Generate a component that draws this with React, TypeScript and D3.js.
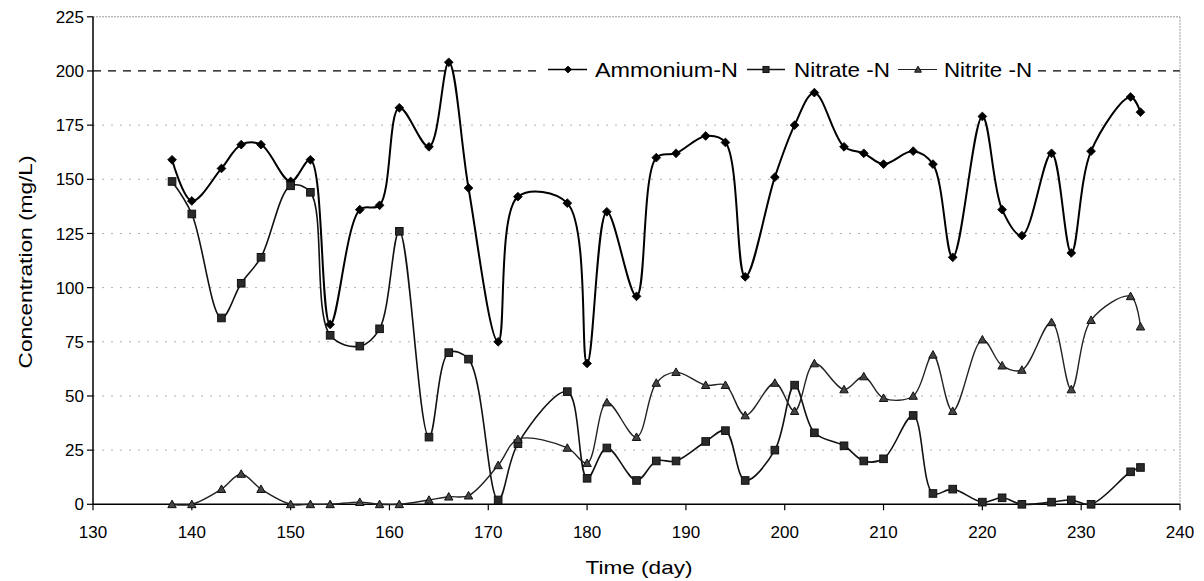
import React from "react";
import * as d3 from "d3";

const days = [138, 140, 143, 145, 147, 150, 152, 154, 157, 159, 161, 164, 166, 168, 171, 173, 178, 180, 182, 185, 187, 189, 192, 194, 196, 199, 201, 203, 206, 208, 210, 213, 215, 217, 220, 222, 224, 227, 229, 231, 235, 236];
const ammonium = [159, 140, 155, 166, 166, 149, 159, 83, 136, 138, 183, 165, 204, 146, 75, 142, 139, 65, 135, 96, 160, 162, 170, 167, 105, 151, 175, 190, 165, 162, 157, 163, 157, 114, 179, 136, 124, 162, 116, 163, 188, 181];
const nitrate = [149, 134, 86, 102, 114, 147, 144, 78, 73, 81, 126, 31, 70, 67, 2, 28, 52, 12, 26, 11, 20, 20, 29, 34, 11, 25, 55, 33, 27, 20, 21, 41, 5, 7, 1, 3, 0, 1, 2, 0, 15, 17];
const nitrite = [0, 0, 7, 14, 7, 0, 0, 0, 1, 0, 0, 2, 3.5, 4, 18, 30, 26, 19, 47, 31, 56, 61, 55, 55, 41, 56, 43, 65, 53, 59, 49, 50, 69, 43, 76, 64, 62, 84, 53, 85, 96, 82];
const xTicks = [130, 140, 150, 160, 170, 180, 190, 200, 210, 220, 230, 240];
const yTicks = [0, 25, 50, 75, 100, 125, 150, 175, 200, 225];
const seriesNames = ["Ammonium-N", "Nitrate -N", "Nitrite -N"];

const FONT = "'Liberation Sans', Arial, sans-serif";

function marker(kind: string, cx: number, cy: number, s: number) {
  if (kind === "diamond") {
    return <path d={`M${cx},${cy - s}L${cx + s},${cy}L${cx},${cy + s}L${cx - s},${cy}Z`} fill="#000" stroke="#000" strokeWidth={0.8} />;
  }
  if (kind === "square") {
    return <rect x={cx - s} y={cy - s} width={2 * s} height={2 * s} fill="#2a2a2a" stroke="#111" strokeWidth={1} />;
  }
  return <path d={`M${cx},${cy - s}L${cx + s},${cy + s * 0.8}L${cx - s},${cy + s * 0.8}Z`} fill="#444" stroke="#111" strokeWidth={1} />;
}

export default function App() {
  const W = 1204, H = 581;
  const x = d3.scaleLinear().domain([130, 240]).range([93, 1180]);
  const y = d3.scaleLinear().domain([0, 225]).range([504.3, 16.8]);
  const line = d3
    .line<[number, number]>()
    .x((d) => x(d[0]))
    .y((d) => y(d[1]))
    .curve(d3.curveCatmullRom.alpha(0.5));

  const series = [
    { name: seriesNames[0], values: ammonium, kind: "diamond", sw: 2, color: "#000", ms: 4.4 },
    { name: seriesNames[1], values: nitrate, kind: "square", sw: 1.6, color: "#111", ms: 3.8 },
    { name: seriesNames[2], values: nitrite, kind: "triangle", sw: 1.4, color: "#222", ms: 4.2 },
  ];

  const legendItems = [
    { lx1: 548, lx2: 587, mx: 568, tx: 595, tw: 143 },
    { lx1: 747, lx2: 785, mx: 766, tx: 794, tw: 96 },
    { lx1: 898, lx2: 937, mx: 918, tx: 944, tw: 88 },
  ];
  const legY = 69.5;

  return (
    <svg width={W} height={H} style={{ position: "absolute", left: 0, top: 0, background: "#fff" }} fontFamily={FONT}>
      <rect x={0} y={0} width={W} height={H} fill="#fff" />
      {yTicks.filter((t) => t > 0 && t < 200).map((t) => (
        <line key={"g" + t} x1={x(130)} x2={x(240)} y1={y(t)} y2={y(t)} stroke="#b0b0b0" strokeWidth={1} strokeDasharray="2 7" />
      ))}
      <line x1={x(130)} x2={x(240)} y1={y(200)} y2={y(200)} stroke="#000" strokeWidth={1.3} strokeDasharray="8 7" />
      <line x1={x(130)} x2={x(240)} y1={y(225)} y2={y(225)} stroke="#999" strokeWidth={1} strokeDasharray="2 1" />
      <line x1={x(240)} x2={x(240)} y1={y(225)} y2={y(0)} stroke="#999" strokeWidth={1} strokeDasharray="2 1" />
      <line x1={x(130)} x2={x(130)} y1={y(225)} y2={y(0)} stroke="#000" strokeWidth={1.5} />
      <line x1={x(130)} x2={x(240)} y1={y(0)} y2={y(0)} stroke="#000" strokeWidth={1.5} />
      {yTicks.map((t) => (
        <g key={"yt" + t}>
          <line x1={x(130) - 6} x2={x(130)} y1={y(t)} y2={y(t)} stroke="#000" strokeWidth={1.2} />
          <text x={84} y={y(t)} dy="0.36em" textAnchor="end" fontSize={17} fill="#000">{t}</text>
        </g>
      ))}
      {xTicks.map((t) => (
        <g key={"xt" + t}>
          <line x1={x(t)} x2={x(t)} y1={y(0)} y2={y(0) + 6} stroke="#000" strokeWidth={1.2} />
          <text x={x(t)} y={538} textAnchor="middle" fontSize={17} fill="#000">{t}</text>
        </g>
      ))}
      <text x={W / 2 + 37} y={574} textAnchor="middle" fontSize={19} fill="#000" textLength={107} lengthAdjust="spacingAndGlyphs">Time (day)</text>
      <text transform="translate(32,262) rotate(-90)" textAnchor="middle" fontSize={19} fill="#000" textLength={213} lengthAdjust="spacingAndGlyphs">Concentration (mg/L)</text>
      {series.map((s) => {
        const pts = days.map((d, i) => [d, s.values[i]] as [number, number]);
        return (
          <g key={s.name}>
            <path d={line(pts) || ""} fill="none" stroke={s.color} strokeWidth={s.sw} />
            {pts.map((p, i) => (
              <g key={i}>{marker(s.kind, x(p[0]), y(p[1]), s.ms)}</g>
            ))}
          </g>
        );
      })}
      <rect x={540} y={57} width={497} height={25} fill="#fff" />
      {series.map((s, i) => {
        const L = legendItems[i];
        return (
          <g key={"leg" + i}>
            <line x1={L.lx1} x2={L.lx2} y1={legY} y2={legY} stroke={s.color} strokeWidth={s.sw * 0.8} />
            {marker(s.kind, L.mx, legY, s.ms * 0.8)}
            <text x={L.tx} y={76.5} fontSize={21} fill="#000" textLength={L.tw} lengthAdjust="spacingAndGlyphs">{s.name}</text>
          </g>
        );
      })}
    </svg>
  );
}
